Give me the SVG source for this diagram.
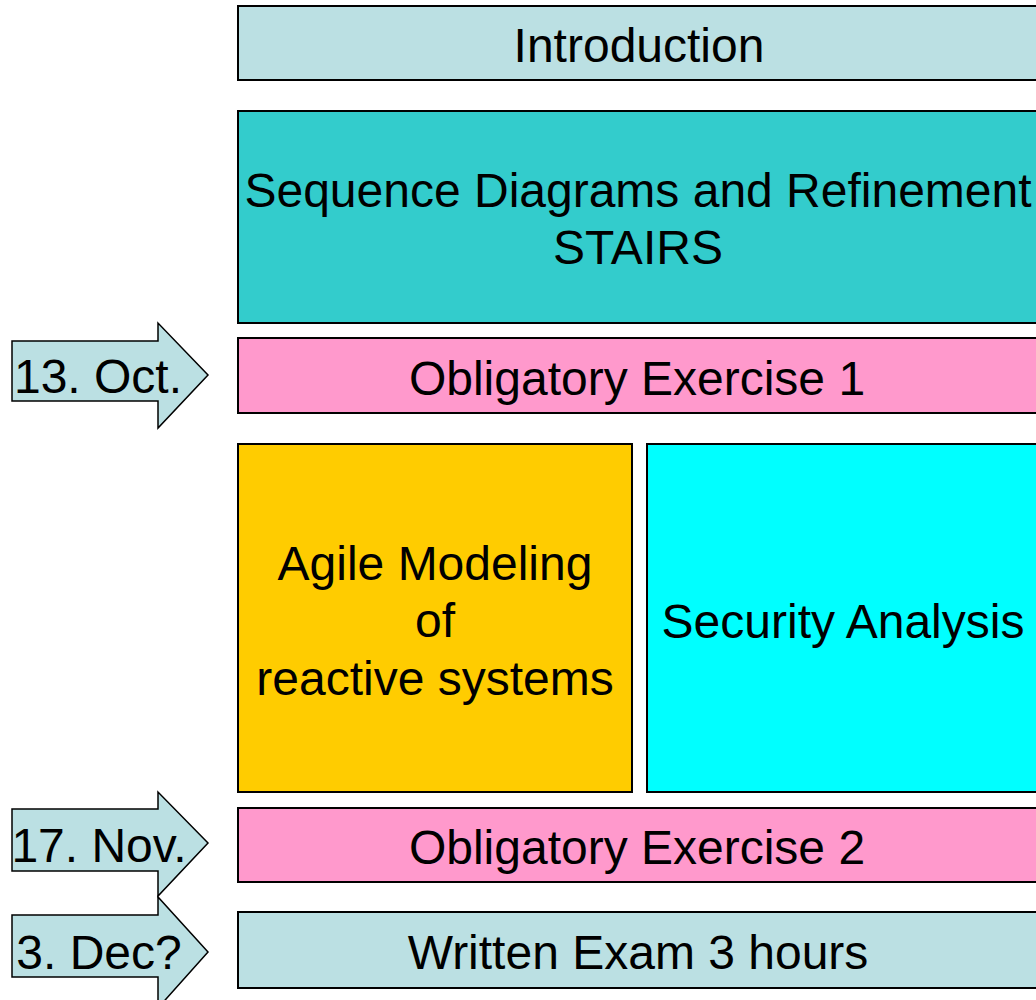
<svg xmlns="http://www.w3.org/2000/svg" width="1036" height="1000" viewBox="0 0 1036 1000">
  <style>
    .box { stroke: #000; stroke-width: 2; }
    .arrow { fill: #BBE0E3; stroke: #000; stroke-width: 1.5; stroke-linejoin: miter; }
    text { font-family: "Liberation Sans", Arial, sans-serif; font-size: 48px; fill: #000; text-anchor: middle; }
  </style>
  <rect width="1036" height="1000" fill="#fff"/>

  <g id="introduction">
    <rect class="box" x="238" y="6" width="804" height="74" fill="#BBE0E3"/>
    <text x="639" y="62">Introduction</text>
  </g>

  <g id="sequence-diagrams">
    <rect class="box" x="238" y="111" width="804" height="212" fill="#33CCCC"/>
    <text x="638" y="207">Sequence Diagrams and Refinement</text>
    <text x="638" y="264">STAIRS</text>
  </g>

  <g id="exercise-1">
    <rect class="box" x="238" y="338" width="804" height="75" fill="#FF99CC"/>
    <text x="637" y="395">Obligatory Exercise 1</text>
  </g>

  <g id="agile-modeling">
    <rect class="box" x="238" y="444" width="394" height="348" fill="#FFCC00"/>
    <text x="435" y="580">Agile Modeling</text>
    <text x="435" y="637">of</text>
    <text x="435" y="695">reactive systems</text>
  </g>

  <g id="security-analysis">
    <rect class="box" x="647" y="444" width="395" height="348" fill="#00FFFF"/>
    <text x="843" y="638">Security Analysis</text>
  </g>

  <g id="exercise-2">
    <rect class="box" x="238" y="808" width="804" height="74" fill="#FF99CC"/>
    <text x="637" y="864">Obligatory Exercise 2</text>
  </g>

  <g id="written-exam">
    <rect class="box" x="238" y="912" width="804" height="76" fill="#BBE0E3"/>
    <text x="638" y="969">Written Exam 3 hours</text>
  </g>

  <g id="connectors">
    <g id="date-oct">
      <polygon class="arrow" points="12,341 158,341 158,323 208,375 158,428 158,401 12,401"/>
      <text x="98" y="393">13. Oct.</text>
    </g>
    <g id="date-nov">
      <polygon class="arrow" points="12,809 158,809 158,792 208,843 158,896 158,871 12,871"/>
      <text x="99" y="862">17. Nov.</text>
    </g>
    <g id="date-dec">
      <polygon class="arrow" points="12,915 158,915 158,897 208,952 158,1008 158,977 12,977"/>
      <text x="99" y="969">3. Dec?</text>
    </g>
  </g>
</svg>
